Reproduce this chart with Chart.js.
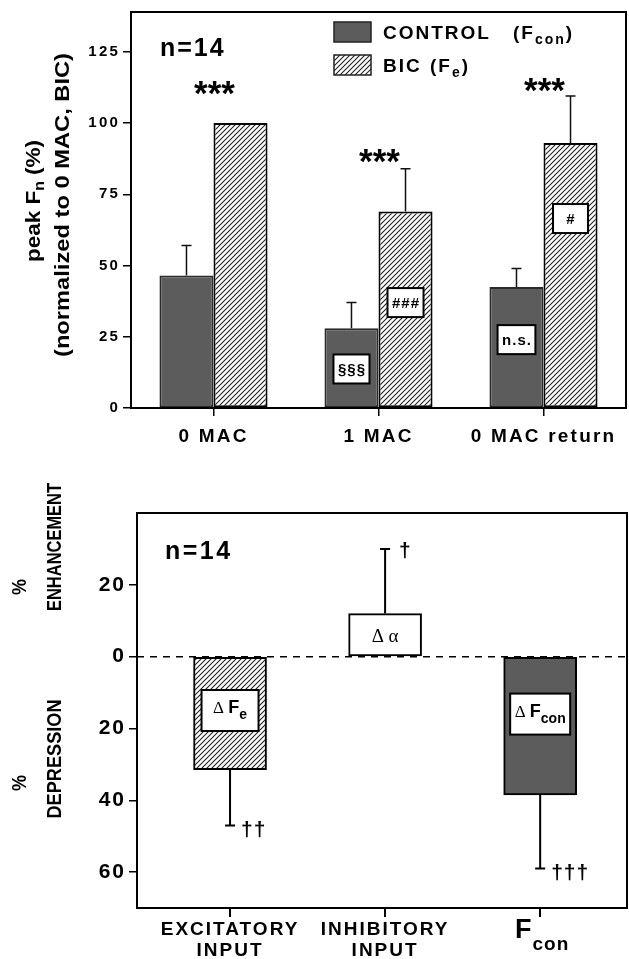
<!DOCTYPE html>
<html>
<head>
<meta charset="utf-8">
<script src="https://cdn.jsdelivr.net/npm/chart.js@4.4.1/dist/chart.umd.min.js"></script>
<style>
  html, body { margin: 0; padding: 0; background: #fff; overflow: hidden; width: 629px; height: 959px; }
  #topChart { position: absolute; left: 0; top: 0; }
  #bottomChart { position: absolute; left: 0; top: 470px; }
</style>
</head>
<body>
<canvas id="topChart" width="629" height="470"></canvas>
<canvas id="bottomChart" width="629" height="489"></canvas>
<script>
// top panel: peak Fn per condition
const topCats = ['0 MAC', '1 MAC', '0 MAC return']
const controlVals = [46.5, 28, 42.5]
const controlErr = [57, 37, 49]
const bicVals = [100, 69, 93]
const bicErr = [null, 84, 109.5]
const starMarks = ['***', '***', '***']
const starLevels = [112, 88, 113]
const controlMarks = ['', '§§§', 'n.s.']
const controlMarkLevels = [null, 13.7, 24]
const bicMarks = ['', '###', '#']
const bicMarkLevels = [null, 37, 66.5]
const topTicks = [0, 25, 50, 75, 100, 125]

// bottom panel: % enhancement / depression
const bottomCats = [['EXCITATORY', 'INPUT'], ['INHIBITORY', 'INPUT'], 'F_con']
const bottomPos = [1, 2, 3]
const bottomVals = [-31.5, 12, -38.5]
const bottomErr = [-47, 30, -59]
const bottomMarks = ['\u0394 F_e', '\u0394 \u03b1', '\u0394 F_con']
const bottomMarkLevels = [-15, 5.5, -16]
const daggers = ['\u2020\u2020', '\u2020', '\u2020\u2020\u2020']
const bottomTicks = [-60, -40, -20, 0, 20]

const SANS = '"Liberation Sans", Arial, sans-serif'
const SERIF = '"Liberation Serif", "Times New Roman", serif'
const GRAY = '#5c5c5c'

Chart.defaults.font.family = SANS
Chart.defaults.color = '#000'
Chart.defaults.animation = false

const makeHatch = (canvas) => {
  const tile = document.createElement('canvas')
  tile.width = 5; tile.height = 5
  const t = tile.getContext('2d')
  t.fillStyle = '#fff'
  t.fillRect(0, 0, 5, 5)
  t.strokeStyle = '#222'
  t.lineWidth = 1.1
  t.beginPath()
  t.moveTo(-1, 6); t.lineTo(6, -1)
  t.moveTo(-1, 1); t.lineTo(1, -1)
  t.moveTo(4, 6); t.lineTo(6, 4)
  t.stroke()
  return canvas.getContext('2d').createPattern(tile, 'repeat')
}

// wide tracking like the original lettering
const tracking = (px) => ({
  id: 'tracking',
  beforeDraw(chart) { chart.ctx.letterSpacing = px + 'px' }
})

// text like "F_con": main part then a lowered subscript
const subWidth = (ctx, text, font, subFont) => {
  const [main, sub] = text.split('_')
  ctx.font = font
  const w1 = ctx.measureText(main).width
  ctx.font = subFont
  return w1 + (sub ? ctx.measureText(sub).width : 0)
}
const drawSub = (ctx, text, x, y, font, subFont, drop, align) => {
  const [main, sub] = text.split('_')
  ctx.font = font
  const w1 = ctx.measureText(main).width
  ctx.font = subFont
  const w2 = sub ? ctx.measureText(sub).width : 0
  let sx = x
  if (align === 'center') sx = x - (w1 + w2) / 2
  ctx.textAlign = 'left'
  ctx.font = font
  ctx.fillText(main, sx, y)
  if (sub) {
    ctx.font = subFont
    ctx.fillText(sub, sx + w1, y + drop)
  }
  return w1 + w2
}

// rotated title stretched to a given length
const rotFit = (ctx, txt, cx, cy, font, len) => {
  ctx.save()
  ctx.letterSpacing = '0px'
  ctx.translate(cx, cy)
  ctx.rotate(-Math.PI / 2)
  ctx.font = font
  const w = ctx.measureText(txt).width
  ctx.scale(len / w, 1)
  ctx.textAlign = 'center'
  ctx.textBaseline = 'middle'
  ctx.fillText(txt, 0, 0)
  ctx.restore()
}

const markBox = (ctx, cx, cy, w, h) => {
  ctx.fillStyle = '#fff'
  ctx.fillRect(cx - w / 2, cy - h / 2, w, h)
  ctx.strokeStyle = '#000'
  ctx.lineWidth = 2
  ctx.strokeRect(cx - w / 2, cy - h / 2, w, h)
}

// ---------- top chart ----------
const topCanvas = document.getElementById('topChart')
const hatchTop = makeHatch(topCanvas)

const topDecor = {
  id: 'topDecor',
  afterDatasetsDraw(chart) {
    const {ctx, chartArea: a, scales: {x, y}} = chart
    ctx.save()
    ctx.strokeStyle = '#000'
    ctx.lineWidth = 2
    ctx.strokeRect(a.left, a.top, a.right - a.left, a.bottom - a.top)

    // error bars
    ;[controlErr, bicErr].forEach((errs, di) => {
      const meta = chart.getDatasetMeta(di)
      errs.forEach((e, i) => {
        if (e == null) return
        const bar = meta.data[i]
        const ey = y.getPixelForValue(e)
        ctx.lineWidth = 1.5
        ctx.strokeStyle = '#111'
        ctx.beginPath()
        ctx.moveTo(bar.x, bar.y); ctx.lineTo(bar.x, ey)
        ctx.moveTo(bar.x - 5, ey); ctx.lineTo(bar.x + 5, ey)
        ctx.stroke()
      })
    })

    // significance stars
    ctx.fillStyle = '#000'
    ctx.textAlign = 'center'
    ctx.textBaseline = 'middle'
    ctx.letterSpacing = '0px'
    ctx.font = 'bold 35px ' + SANS
    starMarks.forEach((s, i) => {
      ctx.fillText(s, x.getPixelForValue(i) + 1, y.getPixelForValue(starLevels[i]) + 6)
    })

    // boxed marks inside bars
    const boxed = (marks, levels, di) => {
      const meta = chart.getDatasetMeta(di)
      marks.forEach((m, i) => {
        if (!m) return
        const cx = meta.data[i].x
        const cy = y.getPixelForValue(levels[i])
        ctx.letterSpacing = '1px'
        ctx.font = 'bold 15px ' + SANS
        const w = Math.max(ctx.measureText(m).width + 8, 35)
        markBox(ctx, cx, cy, w, 29)
        ctx.fillStyle = '#000'
        ctx.textAlign = 'center'
        ctx.fillText(m, cx + 0.5, cy + 1)
      })
    }
    boxed(controlMarks, controlMarkLevels, 0)
    boxed(bicMarks, bicMarkLevels, 1)

    // n=14
    ctx.textAlign = 'left'
    ctx.textBaseline = 'alphabetic'
    ctx.letterSpacing = '2px'
    ctx.font = 'bold 25px ' + SANS
    ctx.fillText('n=14', a.left + 29, a.top + 44)

    // legend
    const lx = a.left + 203
    ctx.fillStyle = GRAY
    ctx.fillRect(lx, a.top + 10, 37, 20)
    ctx.strokeStyle = '#222'
    ctx.lineWidth = 1.5
    ctx.strokeRect(lx, a.top + 10, 37, 20)
    ctx.fillStyle = hatchTop
    ctx.fillRect(lx, a.top + 43, 37, 20)
    ctx.strokeRect(lx, a.top + 43, 37, 20)
    ctx.fillStyle = '#000'
    ctx.letterSpacing = '2px'
    const lf = 'bold 19px ' + SANS
    const sf = 'bold 14px ' + SANS
    ctx.font = lf
    ctx.fillText('CONTROL', lx + 49, a.top + 27)
    let w = drawSub(ctx, '(F_con', lx + 179, a.top + 27, lf, sf, 5)
    ctx.font = lf
    ctx.fillText(')', lx + 179 + w, a.top + 27)
    ctx.fillText('BIC', lx + 49, a.top + 60)
    w = drawSub(ctx, '(F_e', lx + 96, a.top + 60, lf, sf, 5)
    ctx.font = lf
    ctx.fillText(')', lx + 96 + w, a.top + 60)

    // y axis title, two rotated lines
    ctx.save()
    ctx.letterSpacing = '0px'
    ctx.translate(34, 201)
    ctx.rotate(-Math.PI / 2)
    const tf = 'bold 20px ' + SANS
    const tsf = 'bold 14px ' + SANS
    ctx.font = tf
    const natural = subWidth(ctx, 'peak F_n', tf, tsf) + (ctx.font = tf, ctx.measureText(' (%)').width)
    ctx.scale(122 / natural, 1)
    ctx.textBaseline = 'middle'
    const ww = drawSub(ctx, 'peak F_n', -natural / 2, 0, tf, tsf, 6)
    ctx.font = tf
    ctx.fillText(' (%)', -natural / 2 + ww, 0)
    ctx.restore()
    rotFit(ctx, '(normalized to 0 MAC, BIC)', 63, 205, 'bold 20px ' + SANS, 304)

    ctx.restore()
  }
}

new Chart(topCanvas, {
  type: 'bar',
  data: {
    labels: topCats,
    datasets: [
      { label: 'CONTROL', data: controlVals, backgroundColor: GRAY, borderColor: '#2a2a2a', borderWidth: 2, borderSkipped: false },
      { label: 'BIC', data: bicVals, backgroundColor: hatchTop, borderColor: '#000', borderWidth: 2, borderSkipped: false }
    ]
  },
  options: {
    responsive: false,
    layout: { padding: { top: 12, right: 3 } },
    datasets: { bar: { categoryPercentage: 0.655, barPercentage: 1 } },
    plugins: { legend: { display: false }, tooltip: { enabled: false } },
    scales: {
      x: {
        grid: { offset: false, drawOnChartArea: false, drawTicks: true, tickLength: 8, color: '#000', lineWidth: 1.5 },
        border: { display: false },
        ticks: { font: { size: 19, weight: 'bold' }, padding: 9, color: '#000' },
        afterFit: (scale) => { scale.height = 62 }
      },
      y: {
        min: 0,
        max: 139,
        grid: { drawOnChartArea: false, drawTicks: true, tickLength: 8, color: '#000', lineWidth: 1.5 },
        border: { display: false },
        ticks: { font: { size: 15, weight: 'bold' }, padding: 3, color: '#000' },
        afterBuildTicks: (scale) => { scale.ticks = topTicks.map(v => ({ value: v })) },
        afterFit: (scale) => { scale.width = 131 }
      }
    }
  },
  plugins: [tracking(2.2), topDecor]
})

// ---------- bottom chart ----------
const bottomCanvas = document.getElementById('bottomChart')
const hatchBottom = makeHatch(bottomCanvas)

const bottomDecor = {
  id: 'bottomDecor',
  beforeDatasetsDraw(chart) {
    const {ctx, chartArea: a, scales: {y}} = chart
    const zy = y.getPixelForValue(0)
    ctx.save()
    ctx.strokeStyle = '#000'
    ctx.lineWidth = 1.5
    ctx.setLineDash([7, 6])
    ctx.beginPath()
    ctx.moveTo(a.left, zy); ctx.lineTo(a.right, zy)
    ctx.stroke()
    ctx.restore()
  },
  afterDatasetsDraw(chart) {
    const {ctx, chartArea: a, scales: {x, y}} = chart
    ctx.save()
    ctx.strokeStyle = '#000'
    ctx.lineWidth = 2
    ctx.strokeRect(a.left, a.top, a.right - a.left, a.bottom - a.top)

    const meta = chart.getDatasetMeta(0)
    bottomErr.forEach((e, i) => {
      const bar = meta.data[i]
      const ey = y.getPixelForValue(e)
      ctx.lineWidth = 2
      ctx.strokeStyle = '#000'
      ctx.beginPath()
      ctx.moveTo(bar.x, bar.y); ctx.lineTo(bar.x, ey)
      ctx.moveTo(bar.x - 5, ey); ctx.lineTo(bar.x + 5, ey)
      ctx.stroke()
      // category tick mark under the axis, below this bar
      ctx.fillStyle = '#000'
      ctx.fillRect(Math.round(bar.x) - 1, a.bottom, 2, 9)
      // daggers next to the error bar end
      ctx.letterSpacing = '1px'
      ctx.font = 'bold 21px ' + SANS
      ctx.textAlign = 'left'
      ctx.textBaseline = 'middle'
      ctx.fillText(daggers[i], bar.x + (e > 0 ? 14 : 11), ey + (e > 0 ? 2 : 5))
    })

    // marks inside bars
    ctx.letterSpacing = '0px'
    bottomMarks.forEach((m, i) => {
      const bar = meta.data[i]
      const cy = y.getPixelForValue(bottomMarkLevels[i])
      ctx.textBaseline = 'middle'
      ctx.fillStyle = '#000'
      if (m.indexOf('_') < 0) {
        ctx.font = '19px ' + SERIF
        ctx.textAlign = 'center'
        ctx.fillText(m, bar.x, cy)
        return
      }
      const wBox = m.endsWith('con') ? 60 : 57
      markBox(ctx, bar.x, cy, wBox, 41)
      ctx.fillStyle = '#000'
      ctx.font = '17px ' + SERIF
      const dw = ctx.measureText('\u0394 ').width
      const rest = m.slice(2)
      const rw = subWidth(ctx, rest, 'bold 18px ' + SANS, 'bold 14px ' + SANS)
      const sx = bar.x - (dw + rw) / 2
      ctx.textAlign = 'left'
      ctx.font = '17px ' + SERIF
      ctx.fillText('\u0394', sx, cy - 2)
      drawSub(ctx, rest, sx + dw, cy - 2, 'bold 18px ' + SANS, 'bold 14px ' + SANS, 7)
    })

    // n=14
    ctx.textAlign = 'left'
    ctx.textBaseline = 'alphabetic'
    ctx.letterSpacing = '2.5px'
    ctx.font = 'bold 25px ' + SANS
    ctx.fillText('n=14', a.left + 28, a.top + 46)

    // third category label with subscript
    ctx.letterSpacing = '1px'
    const fx = x.getPixelForValue(3)
    drawSub(ctx, bottomCats[2], fx + 2, a.bottom + 30, 'bold 27px ' + SANS, 'bold 19px ' + SANS, 12, 'center')

    // rotated y titles
    const tf = 'bold 20px ' + SANS
    rotFit(ctx, 'ENHANCEMENT', 55, 77, tf, 128)
    rotFit(ctx, 'DEPRESSION', 55, 289, tf, 119)
    rotFit(ctx, '%', 20, 117, tf, 16)
    rotFit(ctx, '%', 20, 313, tf, 16)

    ctx.restore()
  }
}

new Chart(bottomCanvas, {
  type: 'bar',
  data: {
    datasets: [{
      data: bottomPos.map((p, i) => ({ x: p, y: bottomVals[i] })),
      backgroundColor: [hatchBottom, '#fff', GRAY],
      borderColor: '#000',
      borderWidth: 2,
      borderSkipped: false,
      barThickness: 73
    }]
  },
  options: {
    responsive: false,
    layout: { padding: { top: 43, right: 2 } },
    plugins: { legend: { display: false }, tooltip: { enabled: false } },
    scales: {
      x: {
        type: 'linear',
        min: 0.4,
        max: 3.56,
        offset: false,
        grid: { display: false },
        border: { display: false },
        afterBuildTicks: (scale) => { scale.ticks = bottomPos.map(v => ({ value: v })) },
        ticks: {
          autoSkip: false,
          maxRotation: 0,
          font: { size: 19, weight: 'bold', lineHeight: 1.1 },
          padding: 3,
          color: '#000',
          callback: (v, i) => Array.isArray(bottomCats[i]) ? bottomCats[i] : ''
        },
        afterFit: (scale) => { scale.height = 51 }
      },
      y: {
        min: -70,
        max: 40,
        grid: { drawOnChartArea: false, drawTicks: true, tickLength: 8, color: '#000', lineWidth: 1.5 },
        border: { display: false },
        afterBuildTicks: (scale) => { scale.ticks = bottomTicks.map(v => ({ value: v })) },
        ticks: { font: { size: 21, weight: 'bold' }, padding: 3, color: '#000', callback: (v) => Math.abs(v) },
        afterFit: (scale) => { scale.width = 137 }
      }
    }
  },
  plugins: [tracking(2), bottomDecor]
})
</script>
</body>
</html>
